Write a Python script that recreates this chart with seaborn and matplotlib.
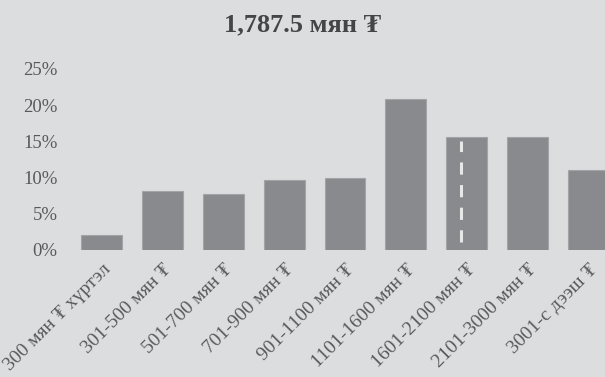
import matplotlib
matplotlib.use("Agg")
import matplotlib.pyplot as plt
import seaborn as sns
import pandas as pd

categories = ["300 мян ₮ хүртэл", "301-500 мян ₮", "501-700 мян ₮", "701-900 мян ₮",
              "901-1100 мян ₮", "1101-1600 мян ₮", "1601-2100 мян ₮", "2101-3000 мян ₮",
              "3001-с дээш ₮"]
shares = [2.0, 8.15, 7.7, 9.6, 10.0, 20.9, 15.6, 15.6, 11.0]
yticks = [0, 5, 10, 15, 20, 25]
median_value = 1787.5
median_bin = 6
median_bin_low, median_bin_high = 1601, 2100
title = "1,787.5 мян ₮"

bg = "#dcdddf"
bar_color = "#898a8d"
serif = ["Liberation Serif", "DejaVu Serif"]

sns.set_theme(style="white")
plt.rcParams["font.family"] = serif

df = pd.DataFrame({"cat": categories, "share": shares})

fig = plt.figure(figsize=(6.05, 3.77), dpi=100)
fig.patch.set_facecolor(bg)
ax = fig.add_axes([0.118, 0.337, 0.882, 0.48])
ax.set_facecolor(bg)

bw = 0.674
sns.barplot(data=df, x="cat", y="share", color=bar_color, width=bw,
            saturation=1, edgecolor="#a3a4a7", linewidth=0.8, ax=ax)

# median marker inside its bin
frac = (median_value - median_bin_low) / (median_bin_high - median_bin_low)
xm = median_bin - bw / 2 + frac * bw
ax.plot([xm, xm], [1.15, 15.05], color="white", lw=2.2, alpha=0.8,
        dashes=(4, 3.4), solid_capstyle="butt", dash_capstyle="butt")

ax.set_xlim(-0.5, 8.276)
ax.set_ylim(0, 25)
ax.set_yticks(yticks)
ax.set_yticklabels([f"{v}%" for v in yticks], fontsize=13.5, color="#595959")
ax.tick_params(axis="y", length=0, pad=10)
ax.tick_params(axis="x", length=0, pad=8)
ax.set_xticks(range(len(categories)))
ax.set_xticklabels(categories, rotation=45, ha="right", rotation_mode="anchor",
                   fontsize=14, color="#595959")
ax.set_xlabel("")
ax.set_ylabel("")
for s in ax.spines.values():
    s.set_visible(False)

fig.text(0.5, 0.935, title, ha="center", va="center", fontsize=19,
         fontweight="bold", color="#454545", family=serif)

fig.savefig("out.png", dpi=100, facecolor=bg)
